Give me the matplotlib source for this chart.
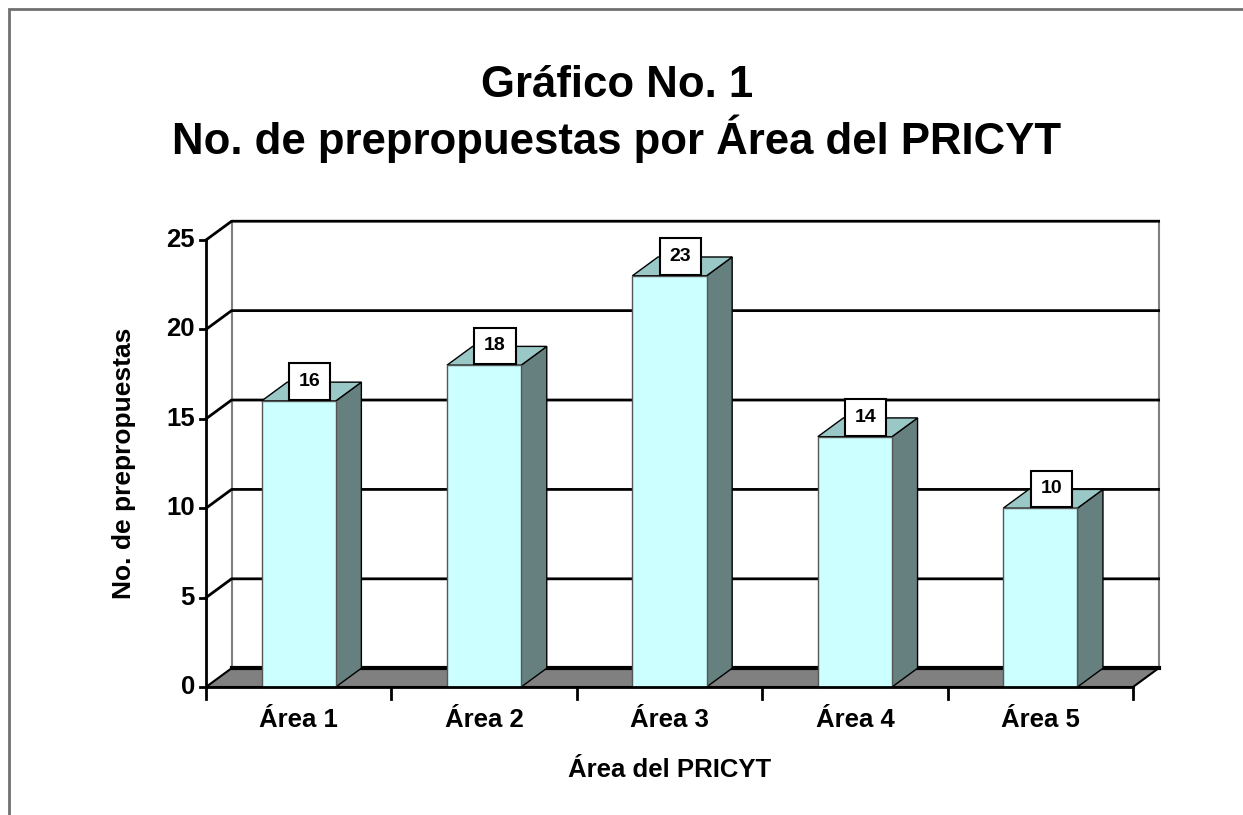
import matplotlib
matplotlib.use("Agg")
import matplotlib.pyplot as plt
from matplotlib.patches import Polygon, Rectangle

plt.rcParams['font.family'] = ['Liberation Sans', 'DejaVu Sans']

categories = ["Área 1", "Área 2", "Área 3", "Área 4", "Área 5"]
values = [16, 18, 23, 14, 10]
yticks = [0, 5, 10, 15, 20, 25]
title = "Gráfico No. 1\nNo. de prepropuestas por Área del PRICYT"
xlabel = "Área del PRICYT"
ylabel = "No. de prepropuestas"

front_c = "#CCFFFF"
top_c = "#99C8C6"
side_c = "#668080"
floor_c = "#808080"

W, H = 1243, 815
fig = plt.figure(figsize=(W / 100, H / 100), dpi=100)
fig.patch.set_facecolor("white")

# outer border
fig.patches.append(Rectangle((8.5 / W, -0.1), 1.2, (H - 8.5) / H + 0.1,
                             transform=fig.transFigure, fill=False,
                             edgecolor="#707070", linewidth=2))

ax = fig.add_axes([206 / W, (H - 687) / H, 927 / W, 447 / H])
n = len(categories)
ymax = 25
ax.set_xlim(0, n)
ax.set_ylim(0, ymax)
ax.axis("off")

dx = 0.138   # depth offset in category units
dy = 1.05    # depth offset in value units

# back wall
ax.add_patch(Polygon([(dx, dy), (n + dx, dy), (n + dx, ymax + dy), (dx, ymax + dy)],
                     closed=True, facecolor="white", edgecolor="none", clip_on=False, zorder=1))
ax.plot([n + dx, n + dx], [dy, ymax + dy], color="#808080", lw=1.5, clip_on=False, zorder=2)
ax.plot([dx, dx], [dy, ymax + dy], color="#808080", lw=1.5, clip_on=False, zorder=2)

# gridlines (back wall + side wall)
for t in yticks[1:]:
    ax.plot([0, dx, n + dx], [t, t + dy, t + dy], color="black", lw=2, clip_on=False, zorder=2)

# floor
ax.add_patch(Polygon([(0, 0), (n, 0), (n + dx, dy), (dx, dy)], closed=True,
                     facecolor=floor_c, edgecolor="black", lw=1.5, clip_on=False, zorder=3))
ax.plot([dx, n + dx], [dy, dy], color="black", lw=3, clip_on=False, zorder=3)

# bars
bw = 0.4
for i, v in enumerate(values):
    x0 = i + 0.5 - bw / 2
    x1 = x0 + bw
    ax.add_patch(Polygon([(x1, 0), (x1 + dx, dy), (x1 + dx, v + dy), (x1, v)], closed=True,
                         facecolor=side_c, edgecolor="black", lw=1, clip_on=False, zorder=4))
    ax.add_patch(Polygon([(x0, v), (x1, v), (x1 + dx, v + dy), (x0 + dx, v + dy)], closed=True,
                         facecolor=top_c, edgecolor="black", lw=1, clip_on=False, zorder=4))
    ax.add_patch(Rectangle((x0, 0), bw, v, facecolor=front_c, edgecolor="#555555",
                           lw=1, clip_on=False, zorder=5))
    ax.text(i + 0.5 + dx / 2 - 0.01, v + dy / 2 + 0.55, str(v), ha="center", va="center",
            fontsize=14, fontweight="bold", zorder=7,
            bbox=dict(boxstyle="square,pad=0.5", facecolor="white", edgecolor="black", lw=1.5))

# front axes
ax.plot([0, 0], [0, ymax], color="black", lw=2, clip_on=False, zorder=6)
ax.plot([0, n], [0, 0], color="black", lw=2, clip_on=False, zorder=6)
for t in yticks:
    ax.plot([-0.035, 0], [t, t], color="black", lw=2, clip_on=False, zorder=6)
    ax.text(-0.06, t, str(t), ha="right", va="center", fontsize=18.5, fontweight="bold")
for k in range(n + 1):
    ax.plot([k, k], [0, -0.65], color="black", lw=2, clip_on=False, zorder=6)
for i, c in enumerate(categories):
    ax.text(i + 0.5, -1.85, c, ha="center", va="center", fontsize=18.5, fontweight="bold")

ax.text(n / 2, -4.65, xlabel, ha="center", va="center", fontsize=18.5, fontweight="bold")
ax.text(-0.44, ymax / 2, ylabel, ha="center", va="center", rotation=90,
        fontsize=19, fontweight="bold")

fig.text(617 / W, 1 - 114 / H, title, ha="center", va="center", fontsize=31.5,
         fontweight="bold", linespacing=1.2)

fig.savefig("out.png", dpi=100)
